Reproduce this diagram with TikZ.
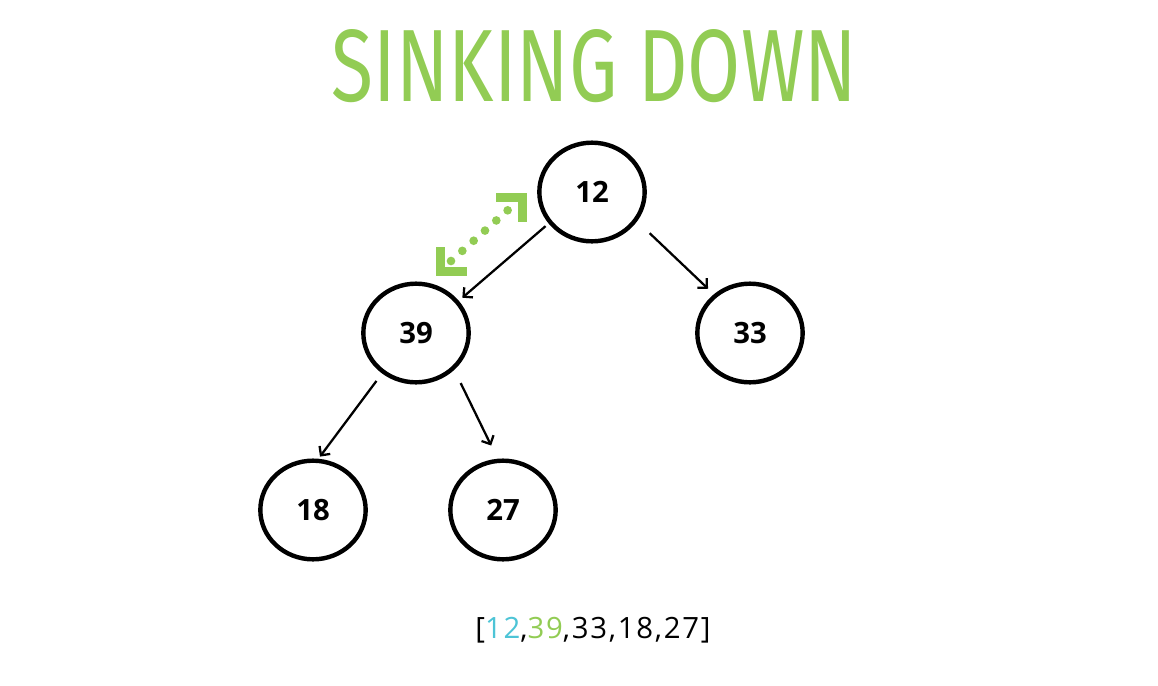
\documentclass[tikz,border=0pt]{standalone}
\usepackage{fontspec}
\setmainfont{Open Sans}
\newfontfamily\titlefont{Fira Sans}
\usetikzlibrary{arrows.meta,shapes.geometric}
\definecolor{heapgreen}{RGB}{146,204,84}
\definecolor{heapcyan}{RGB}{77,196,214}

\begin{document}
\begin{tikzpicture}[x=0.75pt,y=-0.75pt,>={Straight Barb[length=5pt,width=10pt]},
                    key node/.style={draw,ellipse,line width=3.3pt,inner sep=0pt,
                    minimum width=79pt,minimum height=74pt,font=\fontsize{22}{24}\selectfont\bfseries},
                    swap mark/.style={draw=heapgreen,line width=6.75pt,line join=miter,line cap=butt}]

        \useasboundingbox (0,0) rectangle (1158,686);

        % Title
        \node (title) at (594.5,66.5) {\color{heapgreen}\resizebox{393.75pt}{54pt}{\titlefont SINKING DOWN}};

        % Define vertices
        \node[key node] (12) at (592,192) {12};
        \node[key node] (39) at (416,333) {39};
        \node[key node] (33) at (750,333) {33};
        \node[key node] (18) at (313,510) {18};
        \node[key node] (27) at (503,510) {27};

        % Draw edges
        \path[->,line width=1.7pt]
            (12.-144) edge[shorten <=3pt,shorten >=3.5pt] (39.37)
            (12.-33)  edge[shorten <=13pt,shorten >=6pt] (33.133)
            (39.-130) edge[shorten <=7pt,shorten >=2pt] (18.84)
            (39.-44)  edge[shorten <=11pt,shorten >=11pt] (27.96);

        % Swap marker between 12 and 39
        \coordinate (swapA) at (440,271);
        \coordinate (swapB) at (522.5,197.5);
        \coordinate (dotA) at (451,261);
        \coordinate (dotB) at (508,210);
        \draw[heapgreen,line width=6.5pt,line cap=round,dash pattern=on 0pt off 11.4pt] (dotA) -- (dotB);
        \draw[swap mark] (swapA) ++(0,-24) -- (swapA) -- ++(27,0);
        \draw[swap mark] (swapB) ++(-26.5,0) -- (swapB) -- ++(0,24.5);

        % Array
        \node (array) at (593,630) {\fontsize{22}{24}\selectfont\addfontfeatures{LetterSpace=6}[{\color{heapcyan}12},{\color{heapgreen}39},33,18,27]};

\end{tikzpicture}
\end{document}
